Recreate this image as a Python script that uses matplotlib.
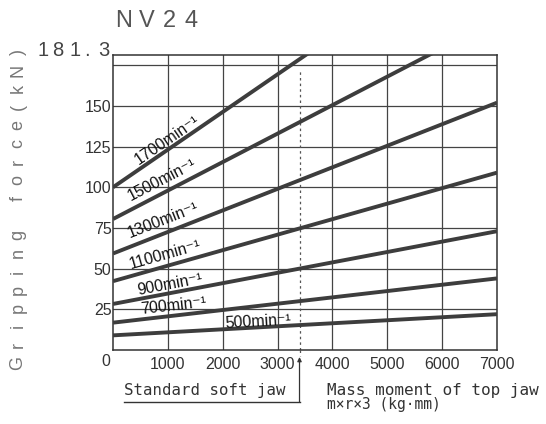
import matplotlib
matplotlib.use("Agg")
import matplotlib.pyplot as plt
import matplotlib.transforms as mtransforms
import numpy as np

# Gripping force (kN) against mass moment of the top jaw, one straight line per spindle speed
speeds = ["1700", "1500", "1300", "1100", "900", "700", "500"]
force_at_0 = [100.0, 80.5, 59.3, 42.3, 28.3, 16.8, 9.0]
force_at_7000 = [262.0, 203.0, 152.0, 109.0, 73.0, 44.0, 22.0]
x_ends = [0, 7000]

x_ticks = [1000, 2000, 3000, 4000, 5000, 6000, 7000]
y_ticks = [25, 50, 75, 100, 125, 150]
y_grid = [25, 50, 75, 100, 125, 150, 175]
y_max = 181.3
soft_jaw_moment = 3400

# label centres (data coords) for each speed line
label_pos = [(984, 129.0), (893, 104.5), (911, 80.0), (948, 58.5),
             (1039, 40.5), (1094, 27.0), (2643, 17.3)]

sans = ["Liberation Sans", "DejaVu Sans"]
mono = ["DejaVu Sans Mono"]
ink = "#333333"
line_col = "#3d3d3d"

W, H = 546, 424
fig = plt.figure(figsize=(W / 100, H / 100), dpi=100)
L, R, T, B = 113, 497, 55, 350
ax = fig.add_axes([L / W, 1 - B / H, (R - L) / W, (B - T) / H])
ax.set_xlim(0, 7000)
ax.set_ylim(0, y_max)

for x in x_ticks[:-1]:
    ax.axvline(x, color="#444444", lw=0.9, zorder=1)
for y in y_grid:
    ax.axhline(y, color="#444444", lw=0.9, zorder=1)

for sp in ax.spines.values():
    sp.set_color("#333333")
    sp.set_linewidth(1.1)

for f0, f1 in zip(force_at_0, force_at_7000):
    ax.plot(x_ends, [f0, f1], color=line_col, lw=2.8, solid_capstyle="butt", zorder=3)

fig.canvas.draw()
for sp, f0, f1, (lx, ly) in zip(speeds, force_at_0, force_at_7000, label_pos):
    p0 = ax.transData.transform((x_ends[0], f0))
    p1 = ax.transData.transform((x_ends[1], f1))
    ang = np.degrees(np.arctan2(p1[1] - p0[1], p1[0] - p0[0]))
    ax.text(lx, ly, sp + "min\u207b\u00b9", rotation=ang, rotation_mode="anchor",
            ha="center", va="center", fontsize=11.5, color="#111111",
            family=sans, zorder=4)

ax.set_xticks(x_ticks)
ax.set_xticklabels([str(v) for v in x_ticks], family=sans, fontsize=11.5, color=ink)
ax.set_yticks(y_ticks)
ax.set_yticklabels([str(v) for v in y_ticks], family=sans, fontsize=11.5, color=ink)
ax.tick_params(axis="both", length=0)
ax.tick_params(axis="x", pad=5)
ax.tick_params(axis="y", pad=1)

# origin label and top value
fig.text(106 / W, 1 - 361 / H, "0", ha="center", va="center",
         family=sans, fontsize=11.5, color=ink)
for ch, cx in zip("181.3", [43, 58, 75, 87, 104]):
    fig.text(cx / W, 1 - 50 / H, ch, ha="center", va="center",
             family=sans, fontsize=14.5, color="#444444")

# title
for ch, cx in zip("NV24", [124, 147, 169, 191]):
    fig.text(cx / W, 1 - 21 / H, ch, ha="center", va="center",
             family=sans, fontsize=17, color="#555555")

# vertical axis title, letter spaced
ylabel = "Gripping force(kN)"
ys = np.linspace(363, 52, len(ylabel))
for ch, cy in zip(ylabel, ys):
    if ch != " ":
        fig.text(18 / W, 1 - cy / H, ch, rotation=90, ha="center", va="center",
                 family=sans, fontsize=13, color="#777777")

# standard soft jaw marker
blend = mtransforms.blended_transform_factory(ax.transData, ax.transAxes)
ax.plot([soft_jaw_moment, soft_jaw_moment], [0, 172], color="#555555",
        lw=0.9, ls=(0, (2, 2.5)), zorder=2)
ax.plot([soft_jaw_moment, soft_jaw_moment], [0, -0.02], color="#555555",
        lw=0.9, ls=(0, (2, 2.5)), transform=blend, clip_on=False)
y_under = -(402 - B) / (B - T)
x_under_start = (124 - L) / (R - L) * 7000
ax.annotate("", xy=(soft_jaw_moment, -(357 - B) / (B - T)),
            xytext=(soft_jaw_moment, y_under),
            xycoords=blend, textcoords=blend,
            arrowprops=dict(arrowstyle="-|>", color="#333333", lw=0.9,
                            mutation_scale=6, shrinkA=0, shrinkB=0))
ax.plot([x_under_start, soft_jaw_moment], [y_under, y_under], color="#333333",
        lw=1.0, transform=blend, clip_on=False)
fig.text(124 / W, 1 - 391 / H, "Standard soft jaw", ha="left", va="center",
         family=mono, fontsize=11.3, color=ink)

fig.text(327 / W, 1 - 390 / H, "Mass moment of top jaw", ha="left", va="center",
         family=mono, fontsize=11.5, color=ink)
fig.text(327 / W, 1 - 405 / H, "m\u00d7r\u00d73 (kg\u00b7mm)", ha="left", va="center",
         family=mono, fontsize=10.5, color=ink)

fig.savefig("out.png", dpi=100)
